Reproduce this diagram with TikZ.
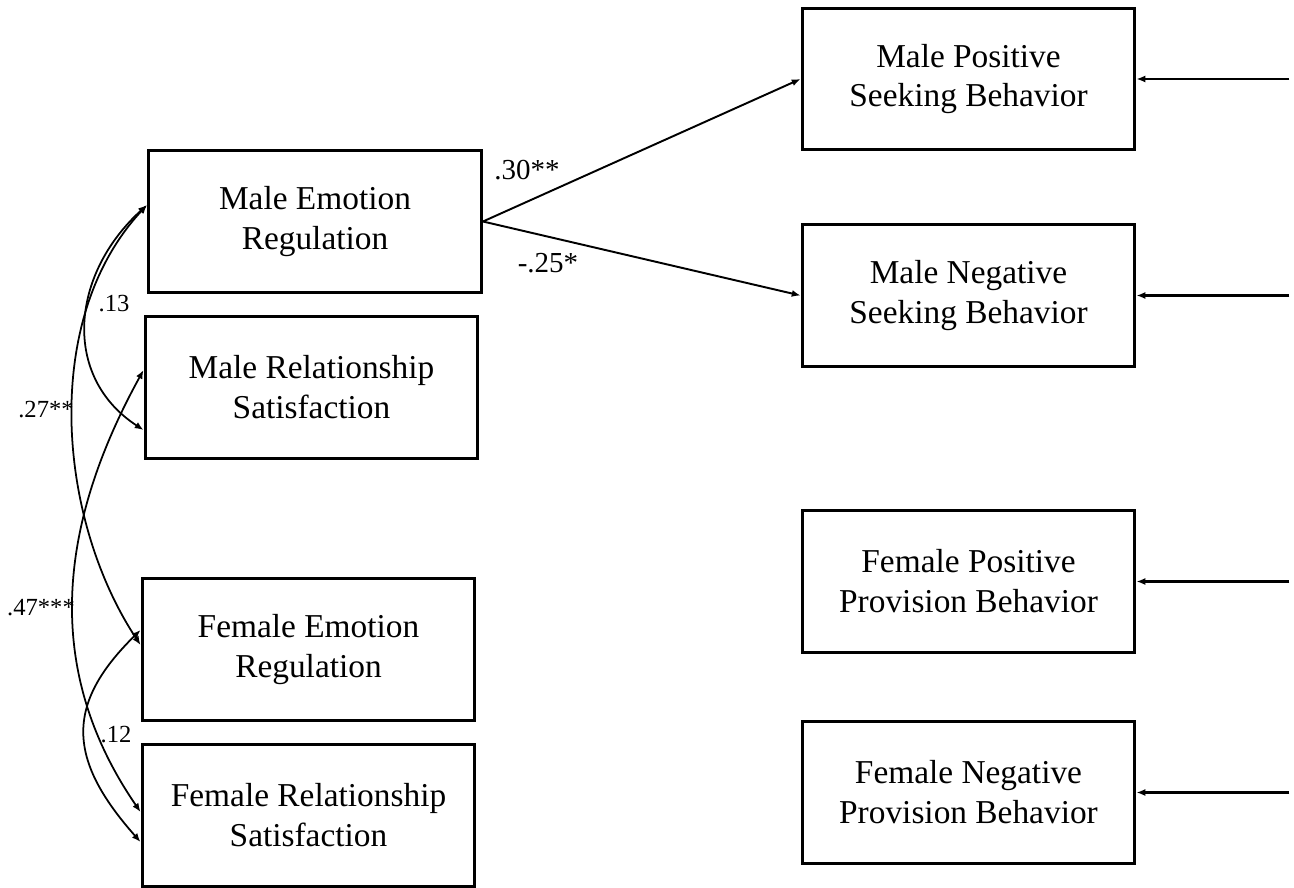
\documentclass[tikz,border=0pt]{standalone}
\usepackage{fontspec}
\setmainfont{Liberation Serif}
\usetikzlibrary{arrows.meta,calc}
\begin{document}
\begin{tikzpicture}[x=0.02cm,y=-0.02cm,
  var/.style={draw,line width=1.7pt,minimum width=6.66cm,minimum height=2.84cm,
    inner sep=0pt,align=center,font=\fontsize{19}{22.7}\selectfont},
  tip/.tip={Latex[length=5pt,width=4pt]},
  pathline/.style={line width=1.1pt,-tip},
  covline/.style={line width=1pt,tip-tip},
  residline/.style={line width=1.6pt,-tip},
  coef/.style={font=\fontsize{14}{16}\selectfont,inner sep=0pt},
  bigcoef/.style={font=\fontsize{16.5}{18}\selectfont,inner sep=0pt}]
\useasboundingbox (0,0) rectangle (1294,888);

% predictors
\node[var] (MER) at (315,221.5) {Male Emotion\\Regulation};
\node[var] (MRS) at (311.5,387.5) {Male Relationship\\Satisfaction};
\node[var] (FER) at (308.5,649.5) {Female Emotion\\Regulation};
\node[var] (FRS) at (308.5,815.5) {Female Relationship\\Satisfaction};

% outcomes
\node[var] (MPSB) at (968.5,79) {Male Positive\\Seeking Behavior};
\node[var] (MNSB) at (968.5,295.5) {Male Negative\\Seeking Behavior};
\node[var] (FPPB) at (968.5,581.5) {Female Positive\\Provision Behavior};
\node[var] (FNPB) at (968.5,792.5) {Female Negative\\Provision Behavior};

% error terms
\coordinate (e1) at ($(MPSB.east)+(153,0)$);
\coordinate (e2) at ($(MNSB.east)+(153,0)$);
\coordinate (e3) at ($(FPPB.east)+(153,0)$);
\coordinate (e4) at ($(FNPB.east)+(153,0)$);
\draw[residline] (e1) -- (MPSB.east);
\draw[residline] (e2) -- (MNSB.east);
\draw[residline] (e3) -- (FPPB.east);
\draw[residline] (e4) -- (FNPB.east);

% regression paths
\draw[pathline] (MER.east) -- (MPSB.west);
\draw[pathline] (MER.east) -- (MNSB.west);
\node[bigcoef] (c30) at (527,170) {.30**};
\node[bigcoef] (c25) at (548,263) {-.25*};

% attachment points for the covariances
\coordinate (a1) at ($(MER.west)+(0,-16.5)$);
\coordinate (m1) at ($(MRS.west)+(0,-17.5)$);
\coordinate (m2) at ($(MRS.west)+(0,42.5)$);
\coordinate (f1) at ($(FER.west)+(0,-19.5)$);
\coordinate (f2) at ($(FER.west)+(0,-4.5)$);
\coordinate (g1) at ($(FRS.west)+(0,-3.5)$);
\coordinate (g2) at ($(FRS.west)+(0,26.5)$);

% covariances
\draw[covline] (a1) .. controls (70,275) and (62,377) .. (m2);
\draw[covline] (a1) .. controls (40,320) and (58,520) .. (f2);
\draw[covline] (m1) .. controls (50,540) and (50,680) .. (g1);
\draw[covline] (f1) .. controls (64,705) and (68,760) .. (g2);
\node[coef] (c13) at (114,304) {.13};
\node[coef] (c27) at (46,410) {.27**};
\node[coef] (c47) at (41,608) {.47***};
\node[coef] (c12) at (116,735) {.12};
\end{tikzpicture}
\end{document}
